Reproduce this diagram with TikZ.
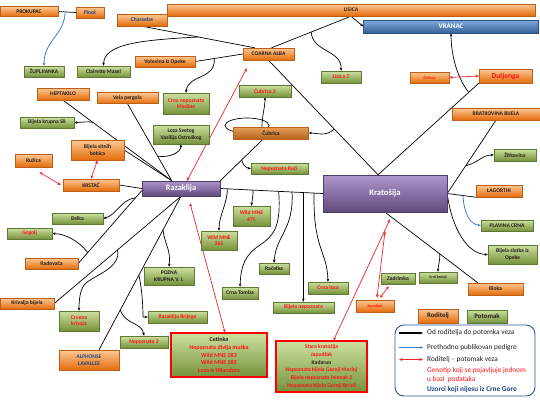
\documentclass[tikz,border=0pt]{standalone}
\usepackage{fontspec}
\setmainfont{Carlito}
\usetikzlibrary{arrows.meta,calc,shadows}
\definecolor{orT}{RGB}{252,200,150}
\definecolor{orM}{RGB}{247,150,70}
\definecolor{orB}{RGB}{228,108,10}
\definecolor{orD}{RGB}{190,95,25}
\definecolor{cuT}{RGB}{230,160,90}
\definecolor{cuB}{RGB}{180,100,30}
\definecolor{grT}{RGB}{205,225,160}
\definecolor{grM}{RGB}{155,187,89}
\definecolor{grB}{RGB}{118,146,60}
\definecolor{grD}{RGB}{95,120,50}
\definecolor{puT}{RGB}{175,150,205}
\definecolor{puM}{RGB}{128,100,162}
\definecolor{puB}{RGB}{96,74,123}
\definecolor{puD}{RGB}{80,60,105}
\definecolor{blT}{RGB}{130,170,220}
\definecolor{blM}{RGB}{79,129,189}
\definecolor{blB}{RGB}{52,97,150}
\definecolor{blD}{RGB}{40,80,130}
\definecolor{txtR}{RGB}{255,20,20}
\definecolor{txtB}{RGB}{31,73,125}
\definecolor{txtK}{RGB}{35,30,25}
\definecolor{lgB}{RGB}{47,85,151}
\definecolor{arB}{RGB}{70,125,200}
\definecolor{arR}{RGB}{235,40,40}
\pgfdeclarelayer{bg}
\pgfsetlayers{bg,main}
\tikzset{
 boxbase/.style={rectangle, inner sep=0.5pt, align=center, line width=0.4pt,
   font=\bfseries\fontsize{5.6}{6.4}\selectfont, text=txtK,
   drop shadow={shadow xshift=0.7pt, shadow yshift=-0.9pt, opacity=0.35}},
 orbox/.style={boxbase, top color=orT, middle color=orM, bottom color=orB, draw=orD},
 cubox/.style={boxbase, top color=cuT, bottom color=cuB, draw=orD},
 grbox/.style={boxbase, top color=grT, middle color=grM, bottom color=grB, draw=grD},
 pubox/.style={boxbase, top color=puT, middle color=puM, bottom color=puB, draw=puD, text=white},
 bluebox/.style={boxbase, top color=blT, middle color=blM, bottom color=blB, draw=blD, text=white},
 redtxt/.style={text=txtR},
 bluetxt/.style={text=txtB},
 tinytxt/.style={font=\bfseries\fontsize{4}{5}\selectfont},
 sz/.style 2 args={minimum width=#1, minimum height=#2},
 conn/.style={line width=0.7pt, black},
 connar/.style={conn, -{Stealth[length=3.2pt,width=2.6pt]}},
 redar/.style={line width=0.7pt, arR, {Stealth[length=3.5pt,width=3pt]}-{Stealth[length=3.5pt,width=3pt]}},
 bluear/.style={line width=0.8pt, arB, -{Stealth[length=3.2pt,width=2.6pt]}},
 legtxt/.style={anchor=west, inner sep=0pt, font=\fontsize{7.3}{8.5}\selectfont, text=txtK},
}
\begin{document}
\begin{tikzpicture}[x=1pt,y=-1pt]
\useasboundingbox (0,0) rectangle (540,405);
% ---------------- nodes ----------------
\node[orbox, sz={58}{10}] (prok) at (29,11.5) {PROKUPAC};
\node[orbox, bluetxt, sz={28}{11}] (pinot) at (90,12.5) {Pinot};
\node[orbox, bluetxt, sz={50}{12}] (chas) at (142,20) {Chasselas};
\node[orbox, sz={368}{12}] (lisica) at (351,10) {LISICA};
\node[bluebox, sz={175}{13}, font=\bfseries\fontsize{7}{8}\selectfont] (vranac) at (451,26.5) {VRANAC};
\node[grbox, sz={40}{11}] (zup) at (44,71.5) {ŽUPLJIANKA};
\node[grbox, sz={53}{11}] (clair) at (103.5,71.5) {Clairette Mazel};
\node[orbox, sz={60}{11}] (volov) at (165,61.5) {Volovina iz Opeke};
\node[orbox, sz={51}{12}] (coarna) at (268.5,54) {COARNA ALBA};
\node[grbox, redtxt, sz={40}{12}] (lis2) at (341,77) {Lisica 2};
\node[orbox, redtxt, tinytxt, sz={39}{11}] (celin) at (429.5,77.5) {Čelinac};
\node[orbox, redtxt, sz={53}{14}, font=\bfseries\fontsize{7.6}{9}\selectfont] (dulj) at (505.5,76) {Duljenga};
\node[orbox, sz={88}{12}] (brat) at (496,114) {BRATKOVINA BIJELA};
\node[orbox, sz={52}{12}] (hept) at (63,94) {HEPTAKILO};
\node[orbox, sz={61}{11}] (vela) at (127.5,98) {Vela pergola};
\node[grbox, redtxt, sz={46}{21}] (crnamas) at (186,103.5) {Crna nepoznata\\Masline};
\node[grbox, redtxt, sz={52}{12}] (cub2) at (265,91) {Čubrica 2};
\node[grbox, sz={54}{11}] (bkrupna) at (47,122.5) {Bijela krupna SR};
\node[grbox, sz={56}{19}] (loza) at (181,134.5) {Loza Svetog\\Vasilija Ostroškog};
\node[cubox, sz={75}{12}] (cub) at (271,133) {Čubrica};
\node[orbox, sz={53}{20}] (bsb) at (97.5,150) {Bijela sitnih\\bobica};
\node[orbox, sz={37}{13}] (ruz) at (33.5,160.5) {Ružica};
\node[orbox, sz={56}{12}] (krst) at (91,185) {KRSTAČ};
\node[pubox, sz={78}{15}, font=\bfseries\fontsize{8.3}{9}\selectfont] (raz) at (181,188.5) {Razaklija};
\node[pubox, sz={124}{37}, font=\bfseries\fontsize{8.6}{10}\selectfont] (krat) at (385,193.5) {Kratošija};
\node[grbox, redtxt, sz={57}{11}] (kuci) at (279.5,168.5) {Nepoznata Kuči};
\node[grbox, sz={42}{12}] (zitk) at (515,155) {Žitkovina};
\node[orbox, sz={46}{12}] (lag) at (499,191) {LAGORTHI};
\node[grbox, sz={52}{11}] (plav) at (507,225.5) {PLAVINA CRNA};
\node[grbox, sz={49}{19}] (bslat) at (512.5,254.5) {Bijela slatka iz\\Opeke};
\node[grbox, sz={51}{11}] (belka) at (77.5,218.5) {Belka};
\node[grbox, redtxt, sz={45}{11}] (gog) at (29.5,233.5) {Gogolj};
\node[orbox, sz={53}{11}] (rad) at (51.5,263.5) {Radovača};
\node[grbox, redtxt, sz={37}{20}] (w475) at (251.5,216) {Wild MNE\\475};
\node[grbox, redtxt, sz={36}{19}] (w362) at (219,240.5) {Wild MNE\\362};
\node[grbox, sz={50}{18}] (pozna) at (169,276) {POZNA\\KRUPNA V. I.};
\node[grbox, sz={30}{11}] (racel) at (274,268.5) {Račelka};
\node[grbox, sz={36}{12}] (tomba) at (240,293) {Crna Tomba};
\node[grbox, redtxt, sz={40}{12}] (crloza) at (328,288) {Crna loza};
\node[grbox, redtxt, sz={61}{11}] (bnep) at (303.5,307.5) {Bijela nepoznata};
\node[grbox, sz={34}{11}] (zadr) at (398,278.5) {Zadrimka};
\node[grbox, tinytxt, sz={38}{11}] (crnik) at (438,277.5) {Crni krstač};
\node[orbox, sz={55}{12}] (bioka) at (495.5,289) {Bioka};
\node[orbox, redtxt, tinytxt, sz={38}{12}] (japu) at (375,306) {Japudžak};
\node[grbox, redtxt, sz={59}{12}] (rbrij) at (177.5,317) {Razaklija Brijege};
\node[grbox, redtxt, sz={48}{12}] (nep2) at (144,342) {Nepoznata 2};
\node[grbox, redtxt, sz={40}{20}] (crvk) at (79,321) {Crvena\\krivaja};
\node[orbox, sz={54}{11}] (kriv) at (27,303.5) {Krivalja bijela};
\node[orbox, bluetxt, sz={60}{20}] (alph) at (89,360) {ALPHONSE\\LAVALLEE};
\node[grbox, draw=red, line width=1.1pt, sz={96}{44}, font=\bfseries\fontsize{6}{7.6}\selectfont] (cet) at (219,355)
  {Cetinka\\\textcolor{txtR}{Nepoznata divlja muška}\\\textcolor{txtR}{Wild MNE 282}\\\textcolor{txtR}{Wild MNE 285}\\\textcolor{txtR}{Loza iz Hilandara}};
\node[grbox, draw=red, line width=1.1pt, sz={91}{51}, font=\bfseries\fontsize{5.6}{7.7}\selectfont] (stara) at (321.5,366.5)
  {\textcolor{txtR}{Stara kratošija}\\\textcolor{txtR}{Japudžak}\\Kadarun\\\textcolor{txtR}{Nepoznata bijela Gornji Morinj}\\\textcolor{txtR}{Bijela nepoznata Jelenak 2}\\\textcolor{txtR}{Nepoznata bijela Gornji Brčeli}};
% legend
\node[orbox, sz={40}{14}, font=\bfseries\fontsize{6.8}{8}\selectfont] (rod) at (438,316) {Roditelj};
\node[grbox, sz={40}{13}, font=\bfseries\fontsize{6.8}{8}\selectfont] (pot) at (487,316.5) {Potomak};
\node[draw=lgB, line width=0.9pt, rounded corners=9pt, sz={140}{71}] (leg) at (465,360.5) {};
\node[legtxt] (t1) at (427,333) {Od roditelja do potomka veza};
\node[legtxt] (t2) at (427,347.5) {Prethodno publikovan pedigre};
\node[legtxt] (t3) at (427,359.5) {Roditelj -- potomak veza};
\node[legtxt, text=txtR] (t4) at (427,371) {Genotip koji se pojavljuje jednom};
\node[legtxt, text=txtR] (t5) at (427,379.5) {u bazi\ \ podataka};
\node[legtxt, text=txtB, font=\bfseries\fontsize{7.3}{8.5}\selectfont] (t6) at (427,390) {Uzorci koji nijesu iz Crne Gore};
\coordinate (l1a) at (399,333); \coordinate (l1b) at (423,333);
\coordinate (l2a) at (399,347.5); \coordinate (l2b) at (423,347.5);
\coordinate (l3a) at (399,359.5); \coordinate (l3b) at (423,359.5);
\draw[connar, line width=1.1pt] (l1a) -- (l1b);
\draw[bluear, line width=1.3pt] (l2a) -- (l2b);
\draw[redar, line width=1.1pt] (l3a) -- (l3b);
% ---------------- connectors ----------------
\begin{pgfonlayer}{bg}
\fill[white] (0,0) rectangle (540,405);
% Prokupac - Pinot -> Zupljianka
\draw[conn] (prok.east) -- (pinot.west);
\coordinate (j1) at ($(prok.east)!0.4!(pinot.west)$);
\draw[bluear] (j1) .. controls (64,36) and (44,40) .. (zup.north);
% Chasselas - Coarna -> Clairette
\coordinate (c1) at ($(coarna.north west)+(12,0)$);
\draw[conn] (chas.south) -- (c1);
\coordinate (j2) at ($(chas.south)!0.5!(c1)$);
\draw[connar] (j2) .. controls (140,40) and (104,44) .. (clair.north);
% Coarna - Lisica -> Lisica 2
\coordinate (c2) at ($(coarna.north)+(3,0)$);
\draw[conn] (c2) -- (lisica.south);
\draw[connar] (lisica.south) -- (vranac.west);
\coordinate (j3) at ($(c2)!0.5!(lisica.south)$);
\draw[connar] (j3) .. controls (312,52) and (342,50) .. (lis2.north);
% Volovina - Coarna -> Crna nepoznata Masline
\draw[conn] (volov.east) -- (coarna.west);
\coordinate (j4) at ($(volov.east)!0.4!(coarna.west)$);
\draw[connar] (j4) .. controls (216,80) and (188,74) .. (crnamas.north);
% Coarna - Kratosija -> Cubrica
\coordinate (kapex) at ($(krat.north)+(-7,0)$);
\draw[conn] (coarna.south) -- (kapex);
\coordinate (j5) at ($(coarna.south)!0.6!(kapex)$);
\draw[connar] (j5) .. controls (326,137) and (318,133) .. (cub.east);
% Duljenga - Kratosija -> Vranac
\draw[conn] (dulj.south west) -- (kapex);
\coordinate (j6) at ($(dulj.south west)!0.1!(kapex)$);
\draw[connar] (j6) .. controls (455,75) and (451,50) .. (vranac.south);
\draw[redar] (celin.east) -- (dulj.west);
% Cubrica loop, Cubrica 2
\draw[conn] (247,125.5) ellipse [x radius=22, y radius=7.5];
\draw[connar] ($(cub.north)+(-9,0)$) .. controls (262,115) and (265,108) .. (cub2.south);
% Razaklija top
\coordinate (rtop) at ($(raz.north west)+(30,0)$);
\draw[conn] (hept.south) -- (rtop);
\draw[conn] (vela.south) -- (rtop);
\draw[conn] (bsb.east) -- (rtop);
\draw[conn] (krst.east) -- (raz.west);
\coordinate (j7) at ($(hept.south)!0.275!(rtop)$);
\draw[connar] (j7) .. controls (88,121) and (81,122.5) .. (bkrupna.east);
\coordinate (j8) at ($(vela.south)!0.68!(rtop)$);
\draw[connar] (j8) .. controls (168,158) and (181,153) .. (loza.south);
\draw[redar] (bsb.south) -- (krst.north);
\draw[redar] ($(ruz.south)+(6,5)$) -- ($(krst.west)+(-2,0)$);
% Razaklija - Cubrica -> Nepoznata Kuci
\coordinate (c3) at ($(cub.south)+(-8,0)$);
\draw[conn] (raz.north east) -- (c3);
\coordinate (j9) at ($(raz.north east)!0.5!(c3)$);
\draw[connar] (j9) .. controls (243,165) and (246,168) .. (kuci.west);
\draw[redar] ($(raz.north)+(6,0)$) -- ($(coarna.south west)+(4,8)$);
% Razaklija - Kratosija
\draw[conn] (raz.east) -- (krat.west);
\coordinate (h1) at ($(raz.east)!0.07!(krat.west)$);
\coordinate (h2) at ($(raz.east)!0.32!(krat.west)$);
\coordinate (h3) at ($(raz.east)!0.57!(krat.west)$);
\coordinate (h4) at ($(raz.east)!0.70!(krat.west)$);
\coordinate (h5) at ($(raz.east)!0.81!(krat.west)$);
\coordinate (h6) at ($(raz.east)!0.915!(krat.west)$);
\draw[connar] (h1) .. controls (227,205) and (219,215) .. (w362.north);
\draw[connar] (h2) .. controls (253,198) and (252,200) .. (w475.north);
\draw[connar] (h3) .. controls (281,225) and (275,235) .. (260,245) .. controls (245,255) and (241,265) .. (tomba.north);
\draw[connar] (h4) .. controls (294,230) and (276,235) .. (racel.north);
\draw[connar] (h5) -- (h5 |- bnep.north);
\draw[connar] (h6) .. controls (313,250) and (327,250) .. (crloza.north);
% Kratosija right
\draw[conn] (brat.south) -- (krat.east);
\coordinate (j10) at ($(brat.south)!0.62!(krat.east)$);
\draw[connar] (j10) .. controls (478,163) and (482,155) .. (zitk.west);
\draw[conn] (krat.east) -- (lag.south west);
\coordinate (j11) at ($(krat.east)!0.55!(lag.south west)$);
\draw[bluear] (j11) .. controls (464,214) and (470,224) .. (plav.west);
\draw[connar] (krat.east) .. controls (452,230) and (468,254) .. (bslat.west);
% Kratosija bottom
\coordinate (c4) at ($(bioka.north west)+(10,0)$);
\draw[conn] (krat.south) -- (c4);
\coordinate (j12) at ($(krat.south)!0.59!(c4)$);
\draw[connar] (j12) .. controls (440,262) and (438,266) .. (crnik.north);
\draw[redar] ($(stara.north)+(12,0)$) -- ($(krat.south)+(5,7)$);
\draw[redar] ($(japu.north)+(2,-2)$) -- ($(krat.south)+(0,19)$);
\draw[redar] ($(japu.north)+(5,-2)$) -- ($(zadr.south west)+(8,2)$);
% Razaklija bottom
\coordinate (c6) at ($(raz.west)+(0,2)$);
\draw[conn] (rad.east) -- (c6);
\coordinate (j13) at ($(rad.east)!0.9!(c6)$);
\draw[connar] (j13) .. controls (120,200) and (117,215) .. (belka.east);
\coordinate (j14) at ($(rad.east)!0.15!(c6)$);
\draw[connar] (j14) .. controls (78,240) and (65,234) .. (gog.east);
\draw[conn] (kriv.east) -- (raz.south);
\coordinate (j15) at ($(kriv.east)!0.5!(raz.south)$);
\draw[connar] (j15) .. controls (121,268) and (95,275) .. (86,283) .. controls (80,288) and (79,300) .. (crvk.north);
\coordinate (c5) at ($(alph.north)+(10,0)$);
\draw[conn] (c5) -- (raz.south);
\coordinate (j16) at ($(c5)!0.26!(raz.south)$);
\draw[connar] (j16) .. controls (125,325) and (142,322) .. (nep2.north);
\coordinate (j17) at ($(c5)!0.487!(raz.south)$);
\draw[connar] (j17) .. controls (142,290) and (143,305) .. (143,317) -- (rbrij.west);
\coordinate (j18) at ($(c5)!0.78!(raz.south)$);
\draw[connar] (j18) .. controls (165,245) and (171,250) .. (pozna.north);
\draw[redar] ($(cet.north)+(6,0)$) -- ($(raz.south)+(9,7)$);
\end{pgfonlayer}
\end{tikzpicture}
\end{document}
